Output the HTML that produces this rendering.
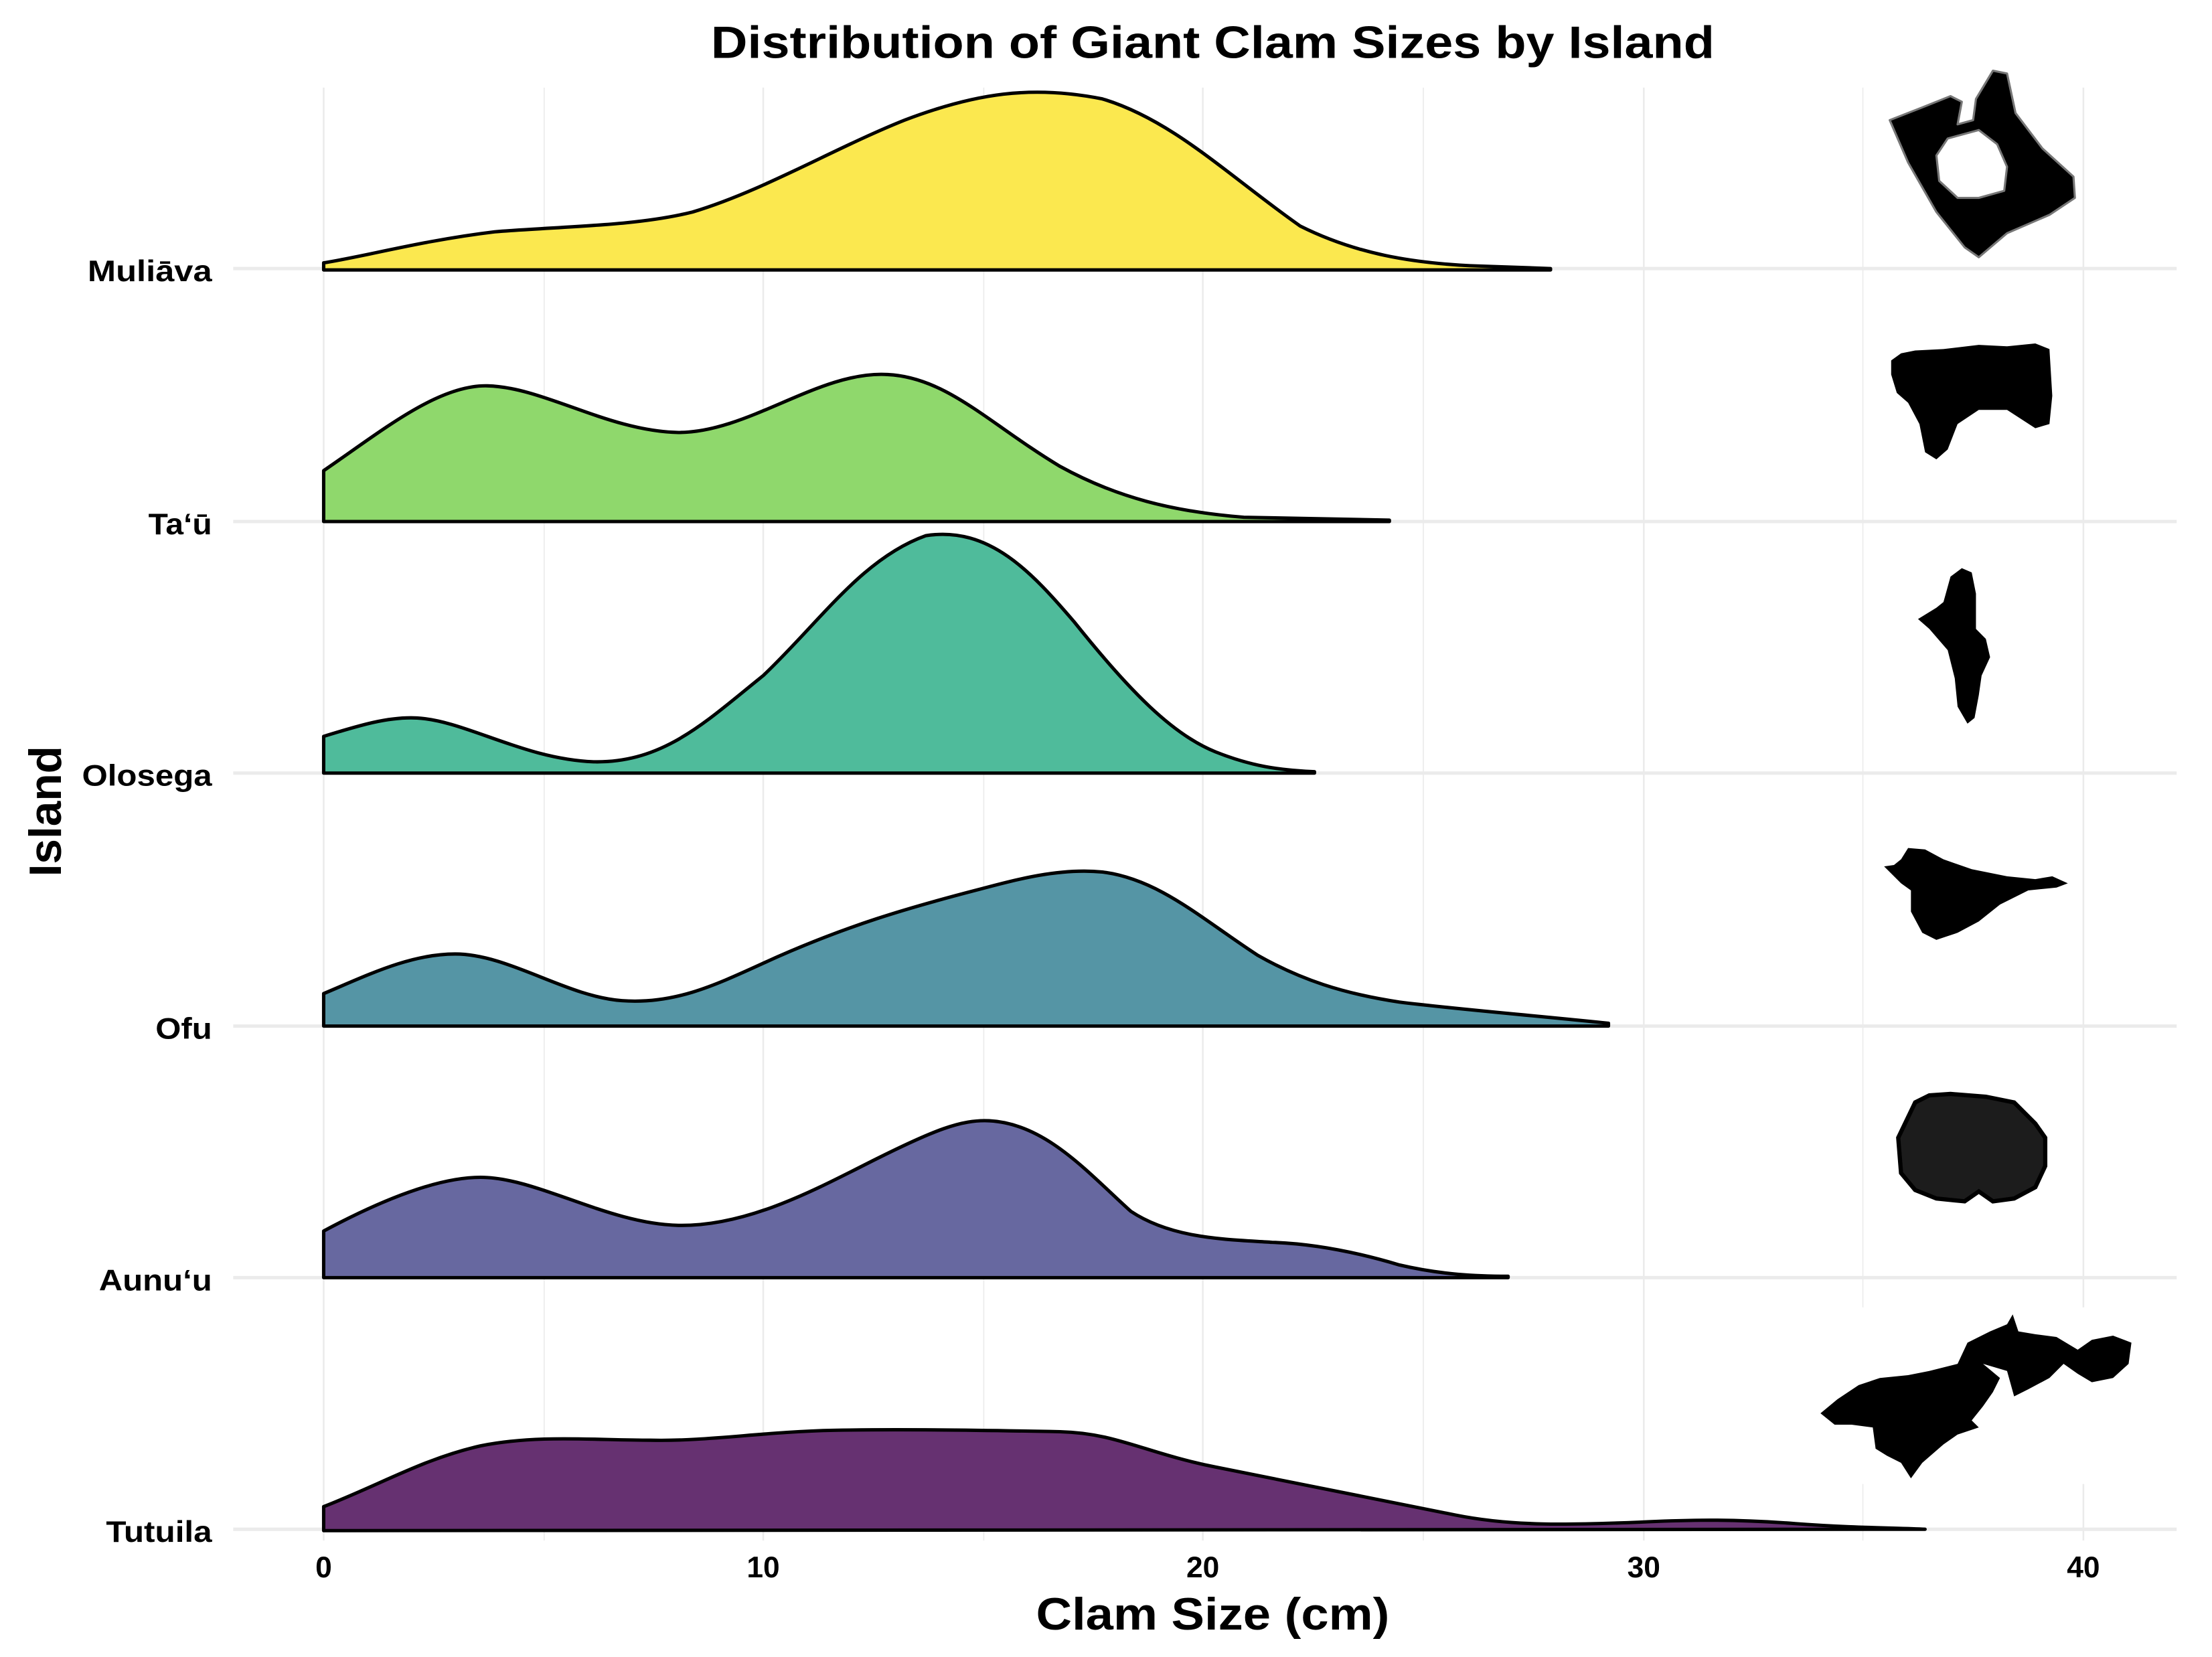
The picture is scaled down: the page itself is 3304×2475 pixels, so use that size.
<!DOCTYPE html>
<html><head><meta charset="utf-8"><style>
html,body{margin:0;padding:0;background:#fff;}
svg{display:block;}
text{font-family:"Liberation Sans",Arial,sans-serif;font-weight:bold;fill:#000;}
</style></head><body>
<svg width="3304" height="2475" viewBox="0 0 1565 1172.4" preserveAspectRatio="none" xmlns="http://www.w3.org/2000/svg">
<rect width="1565" height="1173" fill="#fff"/>
<g stroke="#ebebeb" stroke-width="1.2">
<line x1="229" y1="62" x2="229" y2="1090"/><line x1="540" y1="62" x2="540" y2="1090"/><line x1="851" y1="62" x2="851" y2="1090"/><line x1="1163" y1="62" x2="1163" y2="1090"/><line x1="1474" y1="62" x2="1474" y2="1090"/>
<line x1="385" y1="62" x2="385" y2="1090" stroke-width="0.8"/><line x1="696" y1="62" x2="696" y2="1090" stroke-width="0.8"/><line x1="1007" y1="62" x2="1007" y2="1090" stroke-width="0.8"/><line x1="1318" y1="62" x2="1318" y2="1090" stroke-width="0.8"/>
</g>
<g stroke="#ebebeb" stroke-width="2.4">
<line x1="165" y1="190" x2="1540" y2="190"/><line x1="165" y1="369" x2="1540" y2="369"/><line x1="165" y1="547" x2="1540" y2="547"/><line x1="165" y1="726" x2="1540" y2="726"/><line x1="165" y1="904" x2="1540" y2="904"/><line x1="165" y1="1082" x2="1540" y2="1082"/>
</g>
<g stroke="#000" stroke-width="2.4" stroke-linejoin="round">
<path fill="#fbe84f" d="M229,186 C260,181 300,170 350,164 C400,160 450,160 490,150 C540,135 590,105 640,85 C690,66 730,60 780,70 C830,85 870,125 920,160 C960,180 1000,186 1040,188 L1097,190 L1097,191 L229,191 Z"/>
<path fill="#8fd86c" d="M229,333 C270,305 310,272 345,273 C385,274 430,305 480,306 C530,306 580,262 628,265 C670,267 700,300 750,330 C790,352 830,362 880,366 L983,368 L983,369 L229,369 Z"/>
<path fill="#4fbb9b" d="M229,521 C255,513 275,507 295,508 C330,510 370,537 420,539 C470,540 500,510 540,478 C580,440 610,395 655,379 C700,372 730,405 760,440 C800,490 830,520 860,532 C885,542 905,545 930,546 L930,547 L229,547 Z"/>
<path fill="#5595a5" d="M229,703 C260,690 290,675 322,675 C360,675 400,705 440,708 C480,711 510,695 550,677 C600,655 640,643 690,630 C720,622 750,614 780,617 C820,622 850,650 890,676 C920,693 950,703 990,709 C1030,714 1080,718 1138,724 L1138,726 L229,726 Z"/>
<path fill="#6768a0" d="M229,871 C270,849 310,833 340,833 C380,833 430,866 480,867 C530,868 580,840 620,820 C660,800 680,792 700,793 C740,795 770,830 800,857 C830,877 870,877 900,879 C930,880 960,886 990,895 C1020,902 1045,903 1067,903 L1067,904 L229,904 Z"/>
<path fill="#663171" d="M229,1066 C270,1050 300,1032 340,1023 C380,1015 420,1019 460,1019 C500,1020 540,1013 590,1012 C640,1011 700,1012 750,1013 C790,1014 810,1028 860,1038 C920,1050 980,1062 1030,1072 C1070,1080 1110,1079 1160,1077 C1200,1075 1230,1075 1270,1078 C1310,1081 1340,1081 1362,1082 L229,1083 Z"/>
</g>
<rect x="1280" y="925" width="235" height="125" fill="#fff"/>
<g fill="#000">
<path fill-rule="evenodd" stroke="#777" stroke-width="1.5" stroke-linejoin="round" d="M1337,85 L1360,76 L1380,68 L1388,72 L1385,88 L1396,85 L1398,70 L1410,50 L1420,52 L1426,80 L1445,105 L1467,125 L1468,140 L1450,152 L1420,165 L1400,182 L1390,175 L1370,150 L1350,115 Z M1378,98 L1400,92 L1413,102 L1420,118 L1418,135 L1400,140 L1385,140 L1372,128 L1370,110 Z"/>
<path d="M1338,255 L1345,250 L1355,248 L1375,247 L1400,244 L1420,245 L1440,243 L1450,247 L1452,280 L1450,300 L1440,303 L1420,290 L1400,290 L1385,300 L1378,318 L1370,325 L1362,320 L1358,300 L1350,285 L1342,278 L1338,265 Z"/>
<path d="M1357,438 L1370,430 L1375,426 L1380,408 L1388,402 L1395,405 L1398,420 L1398,445 L1405,452 L1408,465 L1402,478 L1400,492 L1397,508 L1392,512 L1385,500 L1383,480 L1378,460 L1365,445 Z"/>
<path d="M1333,613 L1340,612 L1345,608 L1350,600 L1362,601 L1375,608 L1395,615 L1420,620 L1440,622 L1452,620 L1463,625 L1455,628 L1435,630 L1415,640 L1400,652 L1385,660 L1370,665 L1360,660 L1352,645 L1352,630 L1345,625 Z"/>
<path fill="#1c1c1c" stroke="#000" stroke-width="3" d="M1355,780 L1365,775 L1380,774 L1405,776 L1425,780 L1440,795 L1447,805 L1447,825 L1440,840 L1425,848 L1410,850 L1400,843 L1390,850 L1370,848 L1355,842 L1345,830 L1343,805 Z"/>
<path d="M1288,1000 L1300,990 L1315,980 L1330,975 L1350,973 L1365,970 L1385,965 L1392,950 L1408,942 L1420,937 L1424,930 L1428,942 L1440,944 L1455,946 L1470,955 L1480,948 L1495,945 L1508,950 L1506,965 L1495,975 L1480,978 L1470,972 L1460,965 L1450,975 L1435,983 L1425,988 L1420,970 L1403,965 L1415,975 L1410,985 L1403,995 L1395,1005 L1400,1010 L1385,1015 L1375,1022 L1360,1035 L1352,1046 L1345,1035 L1335,1030 L1327,1025 L1325,1010 L1310,1008 L1298,1008 Z"/>
</g>
<g font-size="21" text-anchor="end">
<text x="150" y="199" textLength="88" lengthAdjust="spacingAndGlyphs">Muliāva</text>
<text x="150" y="378" textLength="45" lengthAdjust="spacingAndGlyphs">Ta‘ū</text>
<text x="150" y="556" textLength="92" lengthAdjust="spacingAndGlyphs">Olosega</text>
<text x="150" y="735" textLength="40" lengthAdjust="spacingAndGlyphs">Ofu</text>
<text x="150" y="913" textLength="80" lengthAdjust="spacingAndGlyphs">Aunu‘u</text>
<text x="150" y="1091" textLength="75" lengthAdjust="spacingAndGlyphs">Tutuila</text>
</g>
<g font-size="21" text-anchor="middle">
<text x="229" y="1116">0</text><text x="540" y="1116">10</text><text x="851" y="1116">20</text><text x="1163" y="1116">30</text><text x="1474" y="1116">40</text>
</g>
<text x="503" y="41" font-size="32" textLength="710" lengthAdjust="spacingAndGlyphs">Distribution of Giant Clam Sizes by Island</text>
<text x="733" y="1153" font-size="32" textLength="250" lengthAdjust="spacingAndGlyphs">Clam Size (cm)</text>
<text transform="translate(43,574) rotate(-90)" font-size="32" text-anchor="middle">Island</text>
</svg>
</body></html>
